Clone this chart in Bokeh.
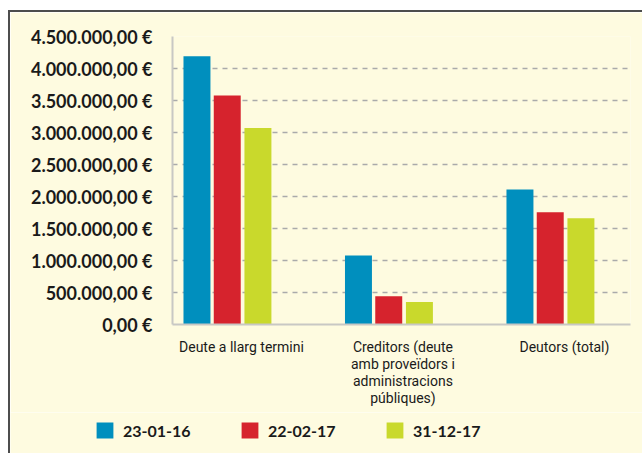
from bokeh.plotting import figure
from bokeh.models import (ColumnDataSource, Range1d, FixedTicker, Legend, LegendItem)
from bokeh.layouts import column
from bokeh.transform import dodge
from bokeh.embed import file_html
from bokeh.resources import INLINE

# ---- data ----
categories = ["Deute a llarg termini",
              "Creditors (deute\namb proveïdors i\nadministracions\npúbliques)",
              "Deutors (total)"]
series_names = ["23-01-16", "22-02-17", "31-12-17"]
values_2016 = [4190000, 1080000, 2110000]
values_2017a = [3580000, 440000, 1755000]
values_2017b = [3070000, 350000, 1660000]
y_ticks = [0, 500000, 1000000, 1500000, 2000000, 2500000, 3000000, 3500000, 4000000, 4500000]
y_tick_labels = ["0,00 €", "500.000,00 €", "1.000.000,00 €", "1.500.000,00 €",
                 "2.000.000,00 €", "2.500.000,00 €", "3.000.000,00 €",
                 "3.500.000,00 €", "4.000.000,00 €", "4.500.000,00 €"]

colors = ["#008fbe", "#d6232d", "#c9d92c"]
bg = "#fefbe0"
txt = "#1a1a1a"

xpos = [i + 0.5 for i in range(len(categories))]
source = ColumnDataSource(dict(x=xpos, s0=values_2016, s1=values_2017a, s2=values_2017b))
cols = ["s0", "s1", "s2"]

p = figure(width=632, height=400, output_backend="svg", toolbar_location=None,
           x_range=Range1d(0.073, 2.909), y_range=Range1d(0, 4500000),
           min_border_left=162, min_border_right=12, min_border_top=24, min_border_bottom=88)
p.frame_align = False
p.background_fill_color = bg
p.border_fill_color = bg
p.outline_line_color = None

offsets = [-0.2755, -0.088, 0.102]
bar_w = 0.167
for i, c in enumerate(cols):
    p.vbar(x=dodge("x", offsets[i]), top=c, width=bar_w, source=source,
           fill_color=colors[i], line_color=None)

# grid
p.xgrid.grid_line_color = None
p.ygrid.ticker = FixedTicker(ticks=y_ticks)
p.ygrid.grid_line_color = "#aaaaaa"
p.ygrid.grid_line_width = 1.5
p.ygrid.grid_line_dash = "5 5"

# y axis
p.yaxis.ticker = FixedTicker(ticks=y_ticks)
p.yaxis.major_label_overrides = {t: l for t, l in zip(y_ticks, y_tick_labels)}
p.yaxis.axis_line_color = "#c8c8c4"
p.yaxis.axis_line_width = 2
p.yaxis.major_tick_line_color = None
p.yaxis.minor_tick_line_color = None
p.yaxis.major_tick_out = 0
p.yaxis.major_label_standoff = 20
p.yaxis.major_label_text_font = "Lato"
p.yaxis.major_label_text_font_style = "bold"
p.yaxis.major_label_text_font_size = "18px"
p.yaxis.major_label_text_color = txt

# x axis
p.xaxis.ticker = FixedTicker(ticks=xpos)
p.xaxis.major_label_overrides = {x: c for x, c in zip(xpos, categories)}
p.xaxis.axis_line_color = "#c8c8c4"
p.xaxis.axis_line_width = 2
p.xaxis.major_tick_line_color = None
p.xaxis.minor_tick_line_color = None
p.xaxis.major_tick_out = 0
p.xaxis.major_label_standoff = 14
p.xaxis.major_label_text_font = "Roboto"
p.xaxis.major_label_text_font_size = "14px"
p.xaxis.major_label_text_color = txt
p.xaxis.major_label_text_line_height = 1.08

# legend strip (separate figure below the chart); its bar renderers use the same
# data but lie outside its ranges, so only the legend is visible
leg = figure(width=632, height=41, output_backend="svg", toolbar_location=None,
             x_range=Range1d(-3, -2), y_range=Range1d(-3, -2),
             x_axis_location=None, y_axis_location=None,
             min_border=0, min_border_left=0, min_border_right=0,
             min_border_top=0, min_border_bottom=0)
leg.frame_align = False
leg.background_fill_color = bg
leg.border_fill_color = bg
leg.outline_line_color = None
leg.grid.grid_line_color = None
leg_renderers = [leg.vbar(x="x", top=c, width=0.1, source=source,
                          fill_color=colors[i], line_color=None)
                 for i, c in enumerate(cols)]
items = [LegendItem(label=n, renderers=[r]) for n, r in zip(series_names, leg_renderers)]
legend = Legend(items=items, orientation="horizontal", location=(84, 13),
                glyph_width=21, glyph_height=20, label_height=20, label_width=116,
                label_standoff=8, spacing=0, padding=0, margin=0,
                border_line_color=None, background_fill_alpha=0,
                label_text_font="Lato", label_text_font_style="bold",
                label_text_font_size="16px", label_text_color=txt)
leg.add_layout(legend, "center")

layout = column(p, leg, spacing=0,
                styles={"margin-left": "8px", "margin-top": "10px",
                        "border-left": "2px solid #4d4d4d",
                        "border-top": "2px solid #4d4d4d"})

open("out.html", "w").write(file_html(layout, INLINE))
